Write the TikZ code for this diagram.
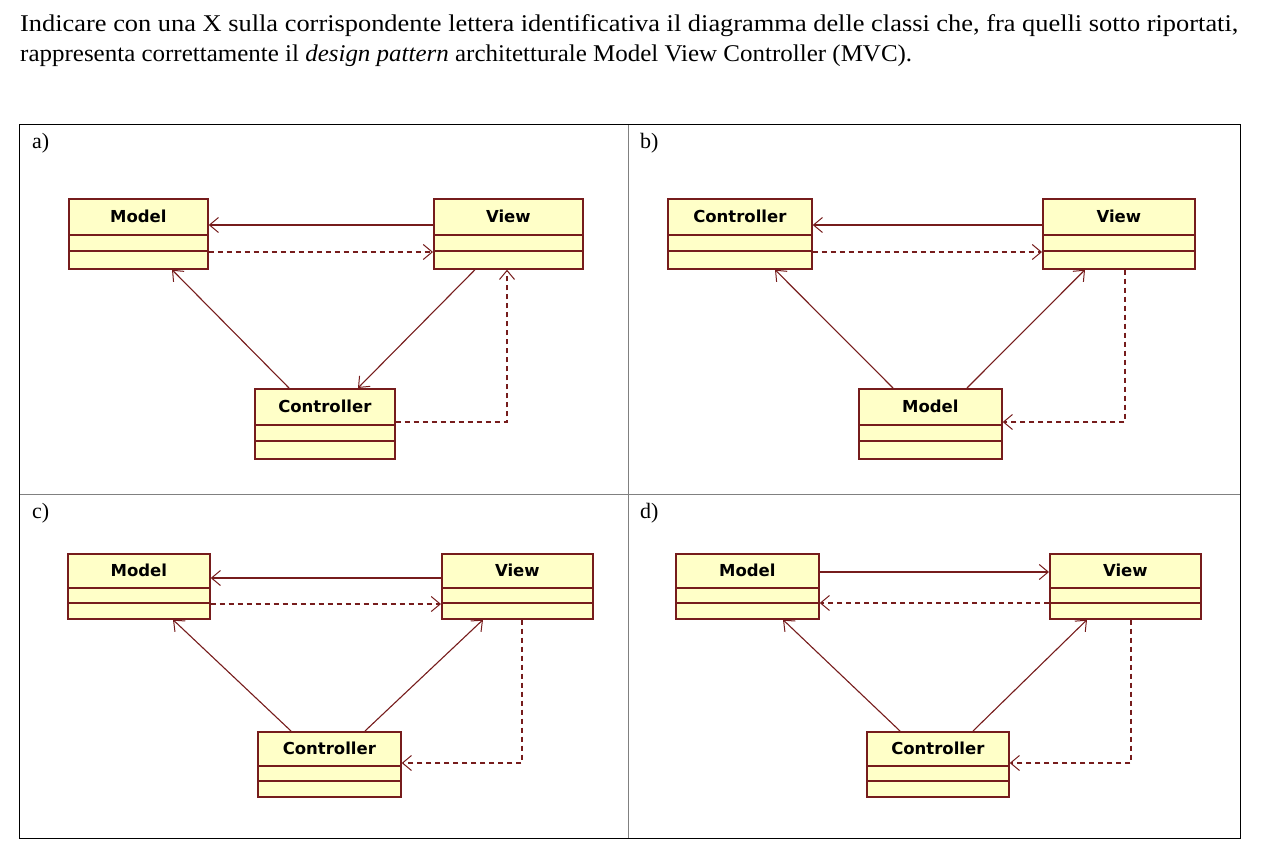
\documentclass[tikz,border=0pt]{standalone}
\usepackage{fontspec}
\usepackage{graphicx}
\setmainfont{Liberation Serif}
\newfontfamily\umlfont{DejaVu Sans}
\usetikzlibrary{arrows.meta,calc}
\definecolor{umlred}{RGB}{118,28,28}
\definecolor{umlfill}{RGB}{255,255,200}
\definecolor{framegrey}{RGB}{128,128,128}
\tikzset{
  cls/.style={draw=umlred, fill=umlfill, line width=1.7pt, inner sep=0pt, anchor=north west},
  clsline/.style={draw=umlred, line width=1.6pt},
  clstitle/.style={font=\umlfont\bfseries\fontsize{16.5}{18}\selectfont, inner sep=0pt, anchor=center},
  assoc/.style={draw=umlred, line width=1.1pt, -{Straight Barb[length=9pt,width=15pt,line width=1pt]}},
  depend/.style={assoc, dash pattern=on 5pt off 4pt},
  panellabel/.style={font=\fontsize{22}{26}\selectfont, anchor=base west, inner sep=0pt},
}
% name, x, y, width, height, title, first divider offset, second divider offset
\newcommand{\umlbox}[8]{%
  \node[cls, minimum width=#4pt, minimum height=#5pt] (#1) at (#2,#3) {};
  \draw[clsline] ([yshift=-#7pt]#1.north west) -- ([yshift=-#7pt]#1.north east);
  \draw[clsline] ([yshift=-#8pt]#1.north west) -- ([yshift=-#8pt]#1.north east);
  \node[clstitle] (#1t) at ([yshift=-#7pt/2]#1.north) {#6};
}
\begin{document}
\begin{tikzpicture}[x=1pt,y=-1pt]
\useasboundingbox (0,0) rectangle (1266,851);
% question text
\node[anchor=base west, inner sep=0pt, font=\fontsize{24}{28}\selectfont] (q1) at (20,32)
  {\resizebox{1218pt}{\height}{Indicare con una X sulla corrispondente lettera identificativa il diagramma delle classi che, fra quelli sotto riportati,}};
\node[anchor=base west, inner sep=0pt, font=\fontsize{24}{28}\selectfont] (q2) at (20,62)
  {\resizebox{892pt}{\height}{rappresenta correttamente il \textit{design pattern} architetturale Model View Controller (MVC).}};
% frame
\draw[framegrey, line width=1pt] (628,124) -- (628,838);
\draw[framegrey, line width=1pt] (19,494) -- (1240,494);
\draw[black, line width=1pt] (19,124) rectangle (1240,838);
% panel labels
\node[panellabel] (la) at (32,148) {a)};
\node[panellabel] (lb) at (640,148) {b)};
\node[panellabel] (lc) at (32,518) {c)};
\node[panellabel] (ld) at (640,518) {d)};
% ---- panel a
\umlbox{aM}{68}{198}{139}{70}{Model}{37}{53}
\umlbox{aV}{433}{198}{149}{70}{View}{37}{53}
\umlbox{aC}{254}{388}{140}{70}{Controller}{37}{53}
\draw[assoc] ([yshift=-27pt]aV.north west) -- ([yshift=-27pt]aM.north east);
\draw[depend] ([yshift=-54pt]aM.north east) -- ([yshift=-54pt]aV.north west);
\draw[assoc] ([xshift=35pt]aC.north west) -- ([xshift=104pt]aM.south west);
\draw[assoc] ([xshift=42pt]aV.south west) -- ([xshift=104pt]aC.north west);
\draw[depend] ([yshift=-34pt]aC.north east) -| ([xshift=74pt]aV.south west);
% ---- panel b
\umlbox{bC}{667}{198}{144}{70}{Controller}{37}{53}
\umlbox{bV}{1042}{198}{152}{70}{View}{37}{53}
\umlbox{bM}{858}{388}{143}{70}{Model}{37}{53}
\draw[assoc] ([yshift=-27pt]bV.north west) -- ([yshift=-27pt]bC.north east);
\draw[depend] ([yshift=-54pt]bC.north east) -- ([yshift=-54pt]bV.north west);
\draw[assoc] ([xshift=35pt]bM.north west) -- ([xshift=108pt]bC.south west);
\draw[assoc] ([xshift=109pt]bM.north west) -- ([xshift=43pt]bV.south west);
\draw[depend] ([xshift=83pt]bV.south west) |- ([yshift=-34pt]bM.north east);
% ---- panel c
\umlbox{cM}{67}{553}{142}{65}{Model}{35}{50}
\umlbox{cV}{441}{553}{151}{65}{View}{35}{50}
\umlbox{cC}{257}{731}{143}{65}{Controller}{35}{50}
\draw[assoc] ([yshift=-25pt]cV.north west) -- ([yshift=-25pt]cM.north east);
\draw[depend] ([yshift=-51pt]cM.north east) -- ([yshift=-51pt]cV.north west);
\draw[assoc] ([xshift=34pt]cC.north west) -- ([xshift=106pt]cM.south west);
\draw[assoc] ([xshift=108pt]cC.north west) -- ([xshift=42pt]cV.south west);
\draw[depend] ([xshift=81pt]cV.south west) |- ([yshift=-32pt]cC.north east);
% ---- panel d
\umlbox{dM}{675}{553}{143}{65}{Model}{35}{50}
\umlbox{dV}{1049}{553}{151}{65}{View}{35}{50}
\umlbox{dC}{866}{731}{142}{65}{Controller}{35}{50}
\draw[assoc] ([yshift=-19pt]dM.north east) -- ([yshift=-19pt]dV.north west);
\draw[depend] ([yshift=-50pt]dV.north west) -- ([yshift=-50pt]dM.north east);
\draw[assoc] ([xshift=34pt]dC.north west) -- ([xshift=108pt]dM.south west);
\draw[assoc] ([xshift=107pt]dC.north west) -- ([xshift=38pt]dV.south west);
\draw[depend] ([xshift=82pt]dV.south west) |- ([yshift=-32pt]dC.north east);
\end{tikzpicture}
\end{document}
